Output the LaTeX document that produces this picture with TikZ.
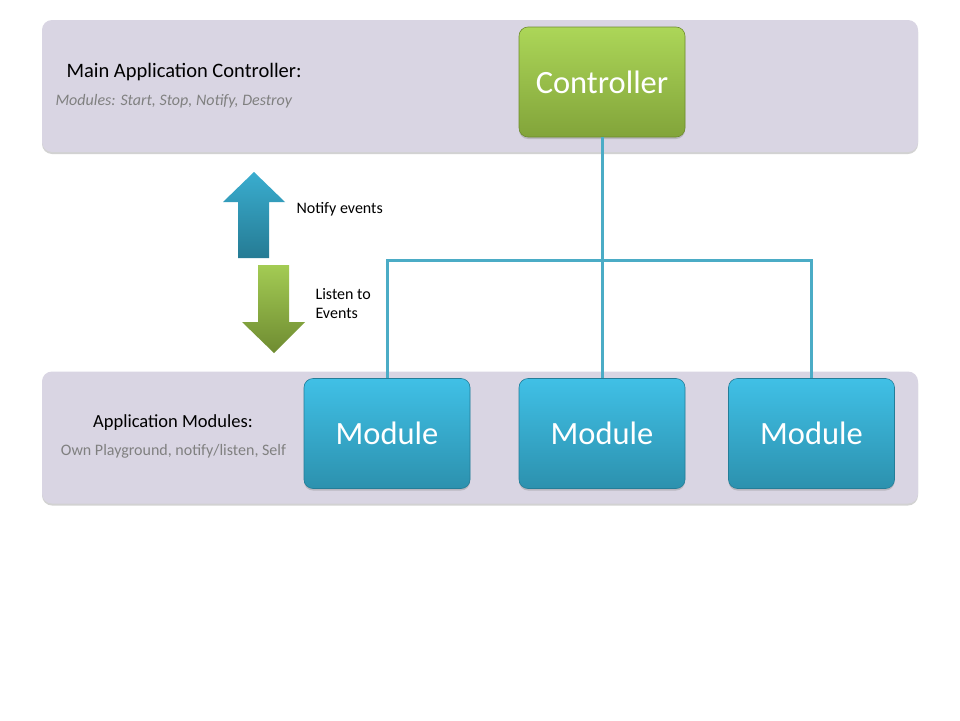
\documentclass[tikz,border=0pt]{standalone}
\usepackage{fontspec}
\setmainfont{Carlito}
\usetikzlibrary{positioning, shadows}
\definecolor{bandfill}{RGB}{217,213,227}
\definecolor{ctrltop}{RGB}{172,214,88}
\definecolor{ctrlbot}{RGB}{130,164,58}
\definecolor{ctrledge}{RGB}{110,140,46}
\definecolor{modtop}{RGB}{64,192,230}
\definecolor{modbot}{RGB}{44,145,174}
\definecolor{modedge}{RGB}{36,125,152}
\definecolor{linkcol}{RGB}{75,172,198}
\definecolor{notegray}{RGB}{128,128,128}
\tikzset{
    x=1pt, y=-1pt,
    band/.style={fill=bandfill, rounded corners=10pt, minimum width=876pt,
        minimum height=132pt,
        drop shadow={shadow xshift=0pt, shadow yshift=-2pt, opacity=0.35}},
    box/.style={rounded corners=9pt, minimum width=166pt, minimum height=110pt,
        text=white, font=\fontsize{32.5}{36}\selectfont, line width=0.6pt,
        drop shadow={shadow xshift=0pt, shadow yshift=-2pt, opacity=0.35}},
    ctrl/.style={box, top color=ctrltop, bottom color=ctrlbot, draw=ctrledge},
    module/.style={box, top color=modtop, bottom color=modbot, draw=modedge},
    link/.style={draw=linkcol, line width=3pt},
    heading/.style={font=\fontsize{20.5}{22}\selectfont},
    note/.style={font=\fontsize{16}{18}\selectfont, text=notegray},
    hint/.style={font=\fontsize{16}{19}\selectfont, align=left},
}

\begin{document}
\begin{tikzpicture}
    \useasboundingbox[fill=white] (0,0) rectangle (960,720);

    % bands
    \node[band] (top) at (480,86) {};
    \node[band] (bottom) at (480,437.5) {};

    % boxes
    \node[ctrl] (ctrl) at (602,82) {Controller};
    \node[module] (mod1) at (387,433.5) {Module};
    \node[module] (mod2) at (602,433.5) {Module};
    \node[module] (mod3) at (811.5,433.5) {Module};

    % labels
    \node[heading, anchor=west] (ctrltitle) at (63,72) {Main Application Controller:};
    \node[note, anchor=west, font=\fontsize{16}{18}\selectfont\itshape] (ctrlnote) at (52,101)
        {Modules: Start, Stop, Notify, Destroy};
    \node[heading, font=\fontsize{18.5}{20}\selectfont] (modtitle) at (173,423) {Application Modules:};
    \node[note] (modnote) at (173.5,451) {Own Playground, notify/listen, Self};

    % event arrows
    \path[top color=modtop!90!black, bottom color=modbot!85!black]
        (254,172) -- (285,202) -- (269,202) -- (269,258) -- (238,258)
        -- (238,202) -- (223,202) -- cycle;
    \path[top color=ctrltop!95!black, bottom color=ctrlbot!85!black]
        (258,265) -- (289,265) -- (289,322) -- (305,322) -- (274,353)
        -- (242,322) -- (258,322) -- cycle;
    \node[hint, anchor=west] (notify) at (293,209) {Notify events};
    \node[hint, anchor=west] (listen) at (312,304) {Listen to\\Events};

    % connectors
    \coordinate (bus) at (602,260);
    \draw[link] (ctrl.south) -- (mod2.north);
    \draw[link] (mod1.north) |- (bus) -| (mod3.north);
\end{tikzpicture}
\end{document}
